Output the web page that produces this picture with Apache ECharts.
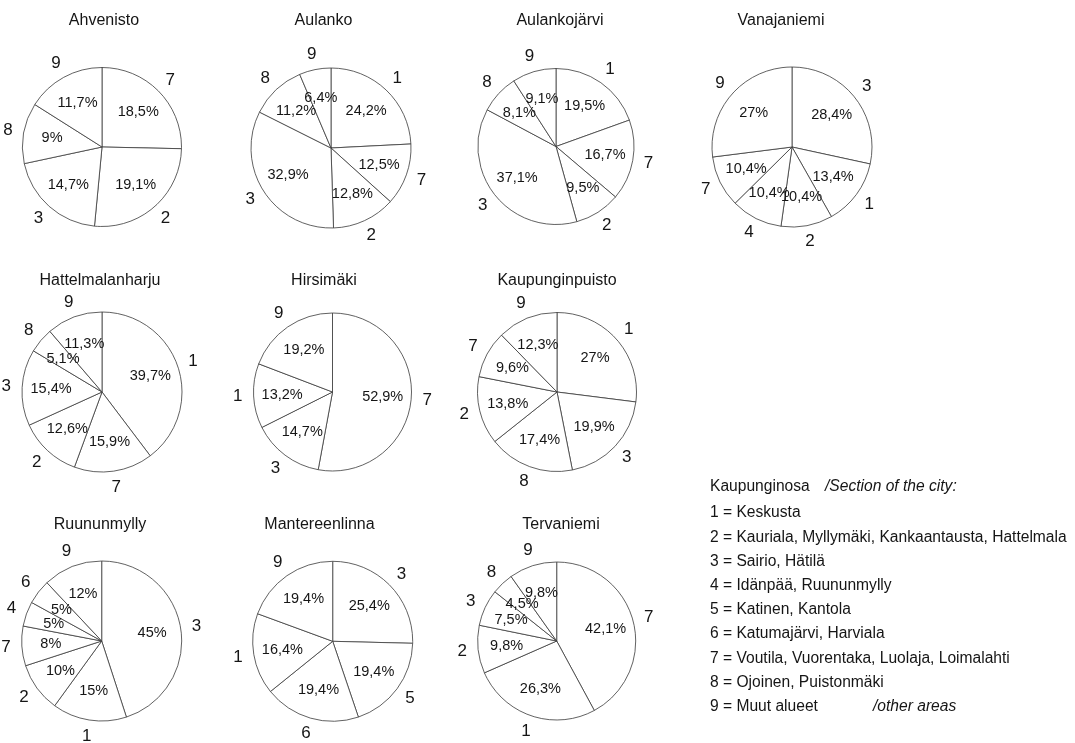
<!DOCTYPE html>
<html><head><meta charset="utf-8">
<script src="https://cdn.jsdelivr.net/npm/echarts@6/dist/echarts.min.js"></script>
<style>html,body{margin:0;padding:0;background:#fff}#c{width:1075px;height:743px}</style>
</head><body><div id="c"></div>
<script>
// ---- data ----
const pieNames = ['Ahvenisto','Aulanko','Aulankojärvi','Vanajaniemi','Hattelmalanharju','Hirsimäki','Kaupunginpuisto','Ruununmylly','Mantereenlinna','Tervaniemi'];

const ahvenistoCats = ['7','2','3','8','9'];
const ahvenistoVals = [18.5, 19.1, 14.7, 9, 11.7];
const aulankoCats = ['1','7','2','3','8','9'];
const aulankoVals = [24.2, 12.5, 12.8, 32.9, 11.2, 6.4];
const aulankojarviCats = ['1','7','2','3','8','9'];
const aulankojarviVals = [19.5, 16.7, 9.5, 37.1, 8.1, 9.1];
const vanajaniemiCats = ['3','1','2','4','7','9'];
const vanajaniemiVals = [28.4, 13.4, 10.4, 10.4, 10.4, 27];
const hattelmalanharjuCats = ['1','7','2','3','8','9'];
const hattelmalanharjuVals = [39.7, 15.9, 12.6, 15.4, 5.1, 11.3];
const hirsimakiCats = ['7','3','1','9'];
const hirsimakiVals = [52.9, 14.7, 13.2, 19.2];
const kaupunginpuistoCats = ['1','3','8','2','7','9'];
const kaupunginpuistoVals = [27, 19.9, 17.4, 13.8, 9.6, 12.3];
const ruununmyllyCats = ['3','1','2','7','4','6','9'];
const ruununmyllyVals = [45, 15, 10, 8, 5, 5, 12];
const mantereenlinnaCats = ['3','5','6','1','9'];
const mantereenlinnaVals = [25.4, 19.4, 19.4, 16.4, 19.4];
const tervaniemiCats = ['7','1','2','3','8','9'];
const tervaniemiVals = [42.1, 26.3, 9.8, 7.5, 4.5, 9.8];

const legendHeading = 'Kaupunginosa';
const legendHeadingNote = '/Section of the city:';
const legendKeys = ['1','2','3','4','5','6','7','8','9'];
const legendNames = ['Keskusta','Kauriala, Myllymäki, Kankaantausta, Hattelmala','Sairio, Hätilä','Idänpää, Ruununmylly','Katinen, Kantola','Katumajärvi, Harviala','Voutila, Vuorentaka, Luolaja, Loimalahti','Ojoinen, Puistonmäki','Muut alueet'];
const legendLastNote = '/other areas';

// ---- layout ----
const pieCats = [ahvenistoCats, aulankoCats, aulankojarviCats, vanajaniemiCats, hattelmalanharjuCats, hirsimakiCats, kaupunginpuistoCats, ruununmyllyCats, mantereenlinnaCats, tervaniemiCats];
const pieVals = [ahvenistoVals, aulankoVals, aulankojarviVals, vanajaniemiVals, hattelmalanharjuVals, hirsimakiVals, kaupunginpuistoVals, ruununmyllyVals, mantereenlinnaVals, tervaniemiVals];
const pieCenters = [[102,147],[331,148],[556,146.5],[792,147],[102,392],[332.5,392],[557,392],[101.7,641],[332.7,641.3],[556.7,641]];
const pieRadius = [79.5,80,78,80,80,79,79.5,80,80,79];
const titleCenters = [[104,21],[323.5,21],[560,21],[781,21],[100,281],[324,281],[557,281],[100,525],[319.5,525],[561,525]];

const FONT = '"Liberation Sans", Arial, Helvetica, sans-serif';
const TXT = '#151515';
const fmt = v => String(v).replace('.', ',') + '%';

const series = [];
pieNames.forEach((nm, i) => {
  const R = pieRadius[i];
  const data = pieCats[i].map((c, j) => ({ name: c, value: pieVals[i][j] }));
  const base = { type: 'pie', center: pieCenters[i], startAngle: 90, clockwise: true, silent: true, animation: false,
    avoidLabelOverlap: false, labelLayout: { hideOverlap: false }, data: data, labelLine: { show: false } };
  series.push(Object.assign({}, base, {
    name: nm, radius: R,
    itemStyle: { color: '#ffffff', borderColor: '#3a3a3a', borderWidth: 0.8 },
    label: { show: false }
  }));
  series.push(Object.assign({}, base, {
    radius: [R * 0.2, R], z: 3,
    itemStyle: { color: 'rgba(0,0,0,0)', borderWidth: 0 },
    label: { show: true, position: 'inside', formatter: p => fmt(p.value), fontSize: 14.5, fontFamily: FONT, color: TXT }
  }));
  series.push(Object.assign({}, base, {
    radius: [R + 6, R + 20], z: 3,
    itemStyle: { color: 'rgba(0,0,0,0)', borderWidth: 0 },
    label: { show: true, position: 'inside', formatter: p => p.name, fontSize: 17, fontFamily: FONT, color: TXT }
  }));
});

const graphics = [];
pieNames.forEach((nm, i) => {
  graphics.push({ type: 'text', x: titleCenters[i][0], y: titleCenters[i][1], silent: true,
    style: { text: nm, font: '16px ' + FONT, fill: TXT, align: 'center', verticalAlign: 'middle' } });
});
const LX = 710, LY0 = 487, LY1 = 513, LSTEP = 24.2;
const LFONT = '15.6px ' + FONT;
graphics.push({ type: 'text', x: LX, y: LY0, silent: true, style: { text: legendHeading, font: LFONT, fill: TXT, verticalAlign: 'middle' } });
graphics.push({ type: 'text', x: 825, y: LY0, silent: true, style: { text: legendHeadingNote, font: 'italic ' + LFONT, fill: TXT, verticalAlign: 'middle' } });
legendKeys.forEach((k, i) => {
  graphics.push({ type: 'text', x: LX, y: LY1 + i * LSTEP, silent: true, style: { text: k + ' = ' + legendNames[i], font: LFONT, fill: TXT, verticalAlign: 'middle' } });
});
graphics.push({ type: 'text', x: 873, y: LY1 + 8 * LSTEP, silent: true, style: { text: legendLastNote, font: 'italic ' + LFONT, fill: TXT, verticalAlign: 'middle' } });

const chart = echarts.init(document.getElementById('c'), null, { renderer: 'canvas' });
chart.setOption({ backgroundColor: '#ffffff', animation: false, series: series, graphic: graphics });
</script>
</body></html>
